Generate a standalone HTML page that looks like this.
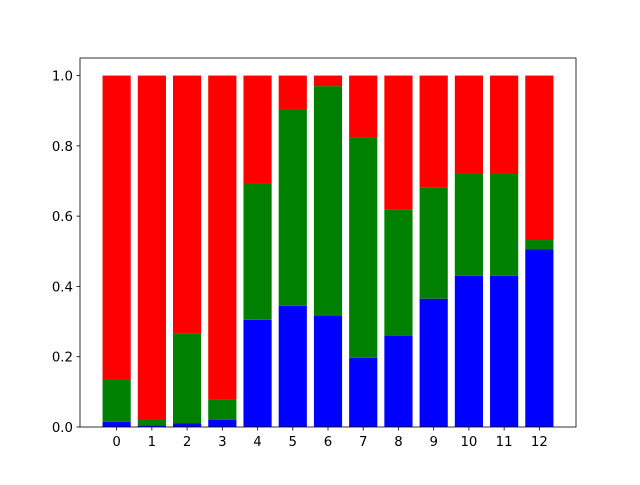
<!DOCTYPE html>
<html><head><meta charset="utf-8"><style>
html,body{margin:0;padding:0;background:#fff}
text{font-family:"DejaVu Sans","Liberation Sans",sans-serif;font-size:13.3px;fill:#000}
</style></head><body>
<svg id="chart" width="640" height="480" xmlns="http://www.w3.org/2000/svg">
<rect width="640" height="480" fill="#fff"/>
<g id="bars"></g>
<g id="axes"></g>
</svg>
<script>
const categories = ["0","1","2","3","4","5","6","7","8","9","10","11","12"];
const blueValues = [0.015,0.005,0.01,0.02,0.305,0.345,0.317,0.197,0.26,0.365,0.43,0.43,0.505];
const greenValues = [0.12,0.015,0.255,0.058,0.388,0.56,0.653,0.628,0.36,0.317,0.29,0.29,0.027];
const yTicks = [0,0.2,0.4,0.6,0.8,1.0];
const yTickLabels = ["0.0","0.2","0.4","0.6","0.8","1.0"];

const L=80,R=576,T=58,B=427;
const n=categories.length;
const xmin=-0.4-0.05*(n-1+0.8), xmax=(n-1)+0.4+0.05*(n-1+0.8);
const ymin=0, ymax=1.05;
const xs=v=>L+(v-xmin)/(xmax-xmin)*(R-L);
const ys=v=>B-(v-ymin)/(ymax-ymin)*(B-T);
const NS="http://www.w3.org/2000/svg";
const bars=document.getElementById('bars'), axes=document.getElementById('axes');
function mk(tag,attrs,parent){const e=document.createElementNS(NS,tag);for(const k in attrs)e.setAttribute(k,attrs[k]);parent.appendChild(e);return e;}
const w=(xs(0.8)-xs(0));
categories.forEach((c,i)=>{
  const x=xs(i)-w/2;
  const b=blueValues[i], g=greenValues[i], r=1-b-g;
  let e=mk('rect',{x:x,y:ys(b),width:w,height:ys(0)-ys(b),fill:'#0000ff'},bars);
  
  
  e=mk('rect',{x:x,y:ys(b+g),width:w,height:ys(b)-ys(b+g),fill:'#008000'},bars);
  
  
  e=mk('rect',{x:x,y:ys(b+g+r),width:w,height:ys(b+g)-ys(b+g+r),fill:'#ff0000'},bars);
  
  
  const t=mk('line',{x1:xs(i),x2:xs(i),y1:B,y2:B+3.5,stroke:'#000','stroke-width':0.8},axes);
  
  
  const lb=mk('text',{x:xs(i),y:B+19,'text-anchor':'middle'},axes);lb.textContent=c;
  
  
});
yTicks.forEach((v,i)=>{
  const t=mk('line',{x1:L-3.5,x2:L,y1:ys(v),y2:ys(v),stroke:'#000','stroke-width':0.8},axes);
  
  
  const lb=mk('text',{x:L-7,y:ys(v)+5,'text-anchor':'end'},axes);lb.textContent=yTickLabels[i];
  
  
});
const fr=mk('rect',{x:L,y:T,width:R-L,height:B-T,fill:'none',stroke:'#000','stroke-width':0.8},axes);


</script>
</body></html>
